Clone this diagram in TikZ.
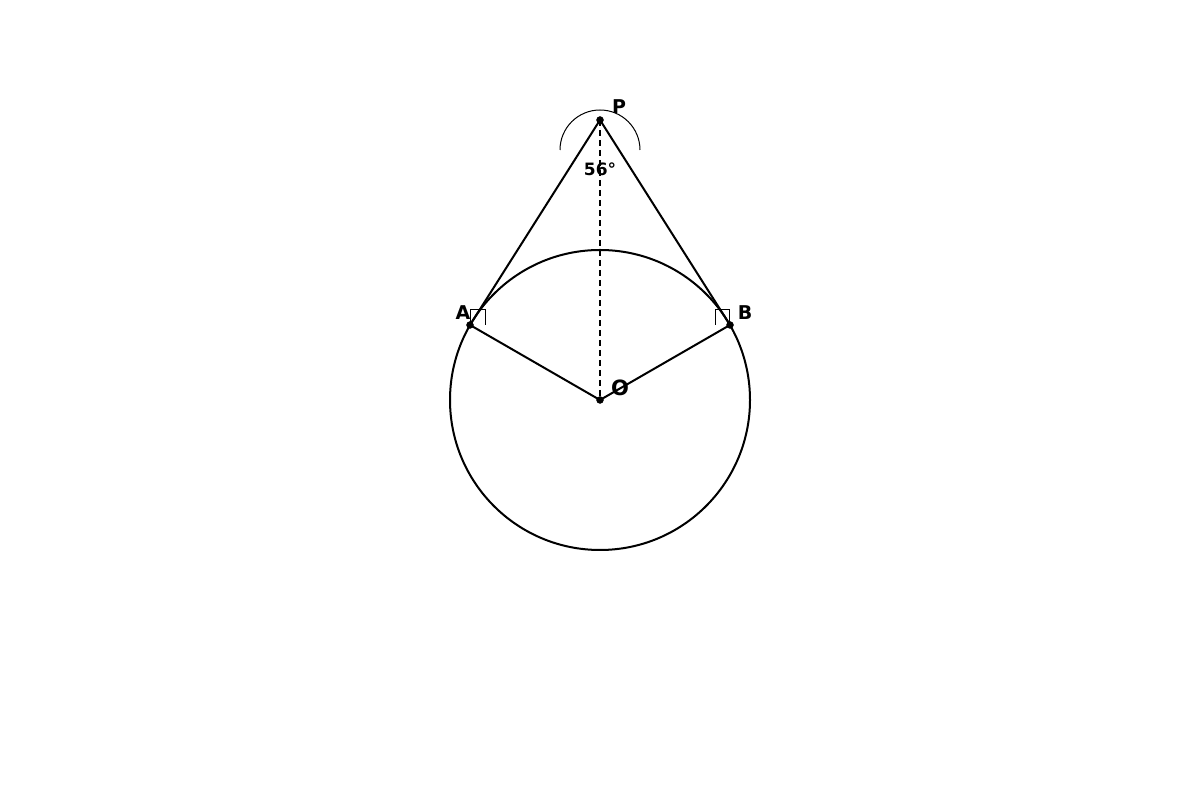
\documentclass[tikz,border=0pt]{standalone}
\usepackage{fontspec}
\setmainfont{DejaVu Sans}
\begin{document}
\begin{tikzpicture}[x=1pt,y=1pt]
        \useasboundingbox (0,0) rectangle (1200,800);

        \coordinate (O) at (600,400);
        \coordinate (P) at (600,680);
        \coordinate (A) at (470,475);
        \coordinate (B) at (730,475);

        \draw[black, line width=2pt] (O) circle (150pt);
        \draw[black, line width=2pt] (A) -- (P) -- (B);
        \draw[black, line width=2pt] (A) -- (O) -- (B);
        \draw[black, line width=2pt, dash pattern=on 6pt off 4pt] (P) -- (O);

        \draw[black, line width=1pt] (560,650) arc[start angle=180, end angle=0, radius=40pt];
        \draw[black, line width=1pt] (470,475) -- (470,490) -- (485,490) -- (485,475);
        \draw[black, line width=1pt] (715,475) -- (715,490) -- (729,490) -- (729,475);

        \filldraw[black] (O) circle (3.5pt);
        \filldraw[black] (P) circle (3.5pt);
        \filldraw[black] (A) circle (3.5pt);
        \filldraw[black] (B) circle (3.5pt);

        \node[font=\fontsize{19}{21}\selectfont\bfseries] (lP) at (619,693) {P};
        \node[font=\fontsize{19}{21}\selectfont\bfseries] (lA) at (463,487) {A};
        \node[font=\fontsize{19}{21}\selectfont\bfseries] (lB) at (745,487) {B};
        \node[font=\fontsize{21}{23}\selectfont\bfseries] (lO) at (620,412) {O};
        \node[font=\fontsize{17}{19}\selectfont\bfseries] (lang) at (600,631) {56°};
\end{tikzpicture}
\end{document}
